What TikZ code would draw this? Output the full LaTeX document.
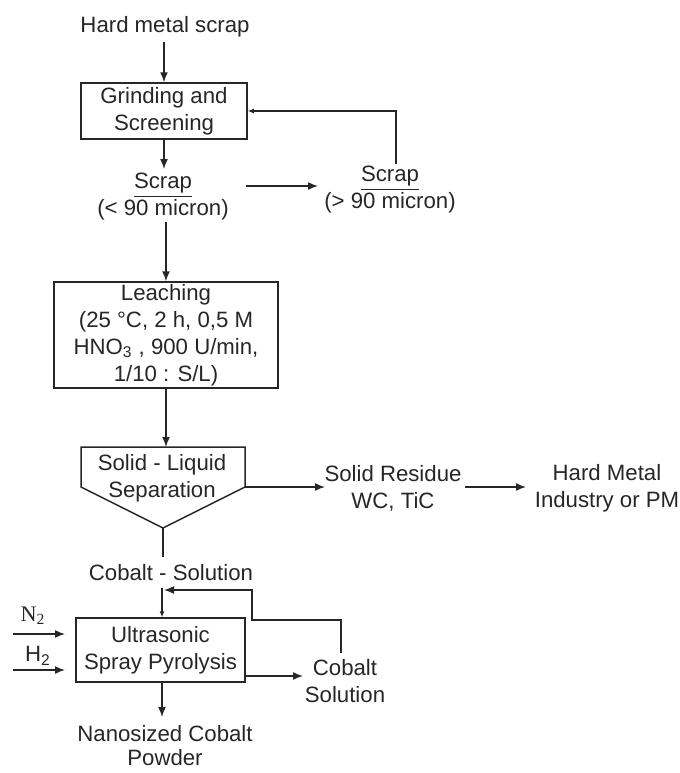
\documentclass[tikz,border=0pt]{standalone}
\usepackage{fontspec}
\setmainfont{Liberation Sans}
\newfontfamily\serifN{Liberation Serif}
\usetikzlibrary{arrows.meta}
\begin{document}
\begin{tikzpicture}[x=0.5pt,y=-0.5pt,
  line width=0.75pt, draw=black!85,
  every node/.style={font=\fontsize{11.1}{13.5}\selectfont, text=black!85, inner sep=0pt, align=center},
  box/.style={draw=black!85, line width=0.75pt},
  arr/.style={draw=black!85, -{Latex[length=5pt,width=4pt]}},
  arrs/.style={draw=black!85, -{Latex[length=3pt,width=2.5pt]}},
  line/.style={draw=black!85}]
\useasboundingbox (0,0) rectangle (680,773);

% nodes
\node (hms) at (165,27) {Hard metal scrap};
\node[box, minimum width=83pt, minimum height=28pt] (grind) at (164,111) {Grinding and\\Screening};
\node (scrap1) at (163,197) {\underline{Scrap}\\(< 90 micron)};
\node (scrap2) at (390,190) {\underline{Scrap}\\(> 90 micron)};
\node[box, minimum width=112pt, minimum height=53pt] (leach) at (166,335) {Leaching\\(25 °C, 2 h, 0,5 M\\HNO\textsubscript{3} , 900 U/min,\\1/10 : S/L)};
\node (sep) at (162,478) {Solid - Liquid\\Separation};
\node (res) at (393,488) {Solid Residue\\WC, TiC};
\node (hmi) at (607,488) {Hard Metal\\Industry or PM};
\node (cosol) at (171,573) {Cobalt - Solution};
\node[box, minimum width=84.5pt, minimum height=32pt] (usp) at (160.5,650) {Ultrasonic\\Spray Pyrolysis};
\node (cosol2) at (345,681) {Cobalt\\Solution};
\node[font=\fontsize{11.1}{12}\selectfont] (nano) at (165,746) {Nanosized Cobalt\\Powder};
\node (n2) at (33,616) {\serifN N\textsubscript{2}};
\node (h2) at (38,656) {H\textsubscript{2}};

% separator shape
\coordinate (sepTL) at (81,447);
\coordinate (sepTR) at (245,447);
\coordinate (sepR) at (245,487);
\coordinate (sepB) at (163,528);
\coordinate (sepL) at (81,487);
\coordinate (sepT) at (166,447);
\draw[line] (sepTL) -- (sepTR) -- (sepR) -- (sepB) -- (sepL) -- cycle;

% helper coordinates
\coordinate (a0) at (164,42);
\coordinate (a1) at (164,169);
\coordinate (s1) at (246,186);
\coordinate (s2) at (318,186);
\coordinate (fb1) at (396,164);
\coordinate (l0) at (166,222);
\coordinate (r0) at (325,487);
\coordinate (r1) at (465,487);
\coordinate (r2) at (526,487);
\coordinate (c0) at (163,557);
\coordinate (c1) at (162,588);
\coordinate (fb2) at (341,653);
\coordinate (fb3) at (252,620);
\coordinate (fb4) at (164,590);
\coordinate (n2a) at (13,634);
\coordinate (n2b) at (65,634);
\coordinate (h2a) at (13,670);
\coordinate (h2b) at (65,670);
\coordinate (o1) at (245,676);
\coordinate (o2) at (303,676);
\coordinate (d1) at (162,717);

% connectors
\draw[arr] (a0) -- (a0 |- grind.north);
\draw[arr] (grind.south -| a1) -- (a1);
\draw[arr] (s1) -- (s2);
\draw[arrs] (fb1) |- (grind.east);
\draw[arr] (l0) -- (leach.north -| l0);
\draw[arr] (leach.south -| sepT) -- (sepT);
\draw[arr] (sepR) -- (r0);
\draw[arr] (r1) -- (r2);
\draw[line] (sepB) -- (c0);
\draw[arrs] (c1) -- (usp.north -| c1);
\draw[arr] (fb2) |- (fb3) |- (fb4);
\draw[arr] (n2a) -- (n2b);
\draw[arr] (h2a) -- (h2b);
\draw[arr] (o1) -- (o2);
\draw[arr] (usp.south -| d1) -- (d1);
\end{tikzpicture}
\end{document}
